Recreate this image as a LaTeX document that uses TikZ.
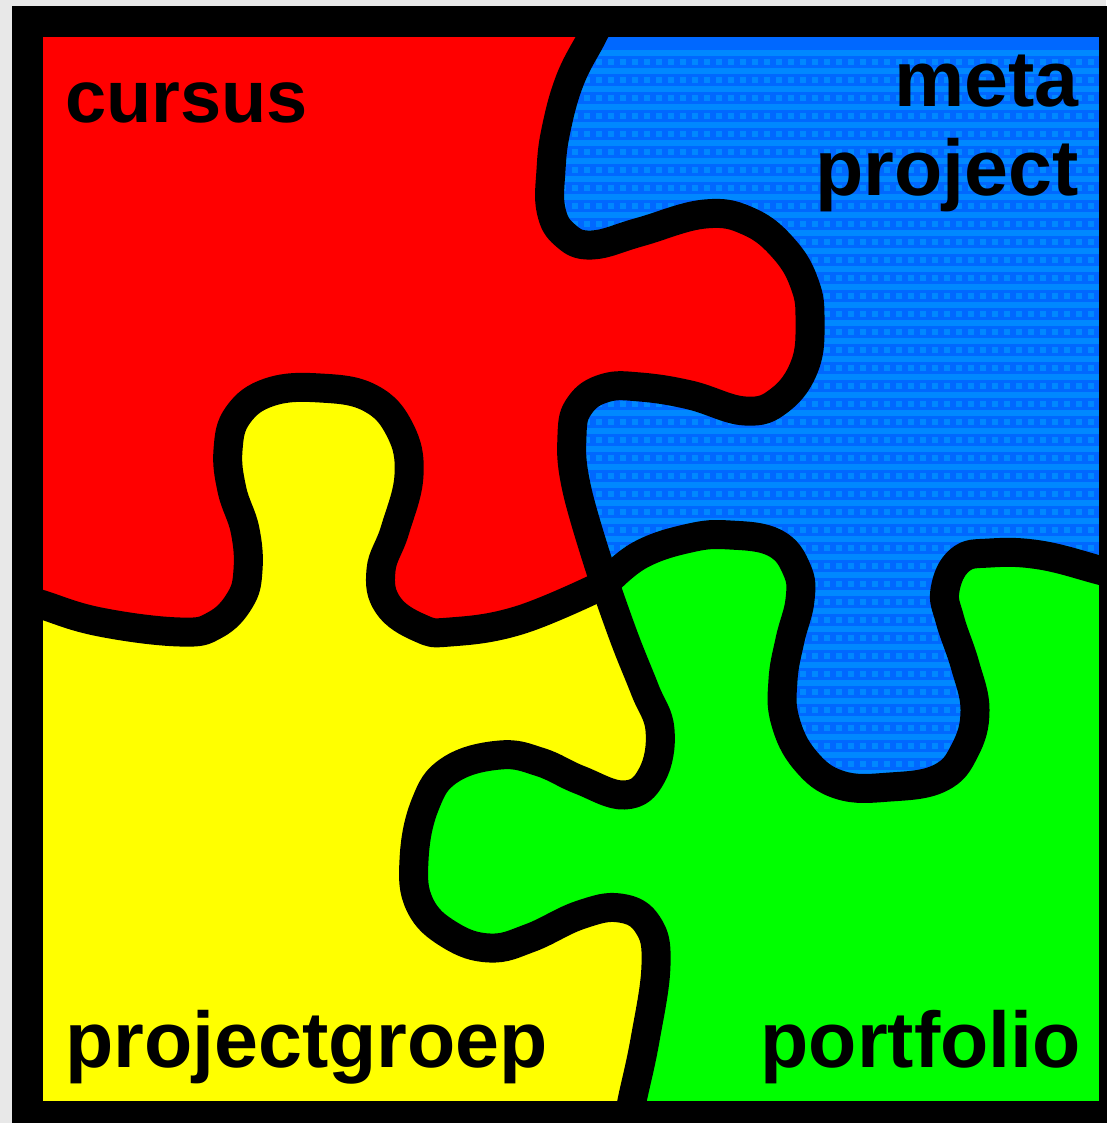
\documentclass[tikz,border=0pt]{standalone}
\usepackage{fontspec}
\setmainfont{Liberation Sans}
\definecolor{pageGray}{HTML}{E8E8E8}
\definecolor{metaBlue}{HTML}{0068FF}
\definecolor{metaLight}{HTML}{0088FF}
\definecolor{pieceRed}{HTML}{FF0000}
\definecolor{pieceGreen}{HTML}{00FF00}
\definecolor{pieceYellow}{HTML}{FFFF00}
% the four seams, all of them from or to the centre of the puzzle
\newcommand{\seamCursusMeta}{(603,15) (592,37) (570,80) (556,130) (551,170) (551,210) (565,235) (592,245) (640,232) (705,214) (750,222) (785,250) (805,285) (810,320) (805,365) (780,400) (745,411) (690,395) (640,387) (605,388) (580,405) (572,435) (577,490) (605,584)}
\newcommand{\seamCursusGroep}{(15,595) (43,605) (100,622) (180,632) (215,625) (240,600) (248,570) (245,530) (232,490) (228,450) (238,415) (270,392) (320,388) (370,398) (400,430) (409,475) (395,530) (381,570) (388,605) (420,628) (450,632) (520,620) (605,584)}
\newcommand{\seamMetaFolio}{(605,584) (640,555) (690,538) (730,535) (775,543) (797,570) (800,600) (790,640) (783,680) (785,720) (805,760) (840,785) (890,787) (940,778) (965,750) (975,710) (965,665) (950,620) (945,590) (960,560) (990,553) (1040,555) (1099,570) (1125,577)}
\newcommand{\seamGroepFolio}{(605,584) (625,640) (645,690) (660,730) (652,775) (625,795) (580,780) (540,762) (500,755) (450,770) (425,805) (414,860) (420,905) (450,935) (490,948) (530,938) (580,915) (620,908) (648,925) (656,965) (645,1040) (632,1101) (628,1125)}
\tikzset{
  seam/.style={draw=black, line width=29pt, line join=round},
  puzzleword/.style={inner sep=0pt, font=\fontsize{79}{84}\selectfont\bfseries},
  smooth seam/.style={smooth, tension=0.7},
}
\begin{document}
\begin{tikzpicture}[x=1pt, y=-1pt]
  \useasboundingbox (0,0) rectangle (1106,1123);
  \fill[pageGray] (0,0) rectangle (1106,1123);
  \fill[black] (12,6) rectangle (1106,1123);
  \fill[pieceRed] (43,37) rectangle (1099,1101);
  % meta piece, with its dithered stripes
  \fill[metaBlue, path picture={
      \foreach \y in {50,68,...,770} {
        \fill[metaLight] (560,\y) rectangle (1100,\y+6);
        \draw[metaLight, line width=6pt, dash pattern=on 6pt off 6pt] (560,\y+12) -- (1100,\y+12);
      }
    }] (603,15) -- plot[smooth seam] coordinates {\seamCursusMeta}
    -- plot[smooth seam] coordinates {\seamMetaFolio} -- (1125,15) -- cycle;
  \fill[pieceGreen] (605,584) -- plot[smooth seam] coordinates {\seamMetaFolio}
    -- (1125,1125) -- (43,1125) -- cycle;
  \fill[pieceYellow] (15,595) -- plot[smooth seam] coordinates {\seamCursusGroep}
    -- plot[smooth seam] coordinates {\seamGroepFolio} -- (15,1125) -- cycle;
  \draw[seam] plot[smooth seam] coordinates {\seamCursusMeta};
  \draw[seam] plot[smooth seam] coordinates {\seamCursusGroep};
  \draw[seam] plot[smooth seam] coordinates {\seamMetaFolio};
  \draw[seam] plot[smooth seam] coordinates {\seamGroepFolio};
  % the frame once more, over the ends of the seams and the fills
  \draw[black, line width=31pt] (27.5,21.5) rectangle (1114.5,1116.5);
  \fill[pageGray] (0,0) rectangle (12,1123);
  \fill[pageGray] (0,0) rectangle (1106,6);
  \node[puzzleword, anchor=base west, font=\fontsize{74}{80}\selectfont\bfseries] (cursus) at (65,123) {cursus};
  \node[puzzleword, anchor=base east] (meta) at (1079,107) {meta};
  \node[puzzleword, anchor=base east] (project) at (1079,196) {project};
  \node[puzzleword, anchor=base west] (groep) at (65,1067) {projectgroep};
  \node[puzzleword, anchor=base east] (folio) at (1081,1067) {portfolio};
\end{tikzpicture}
\end{document}
